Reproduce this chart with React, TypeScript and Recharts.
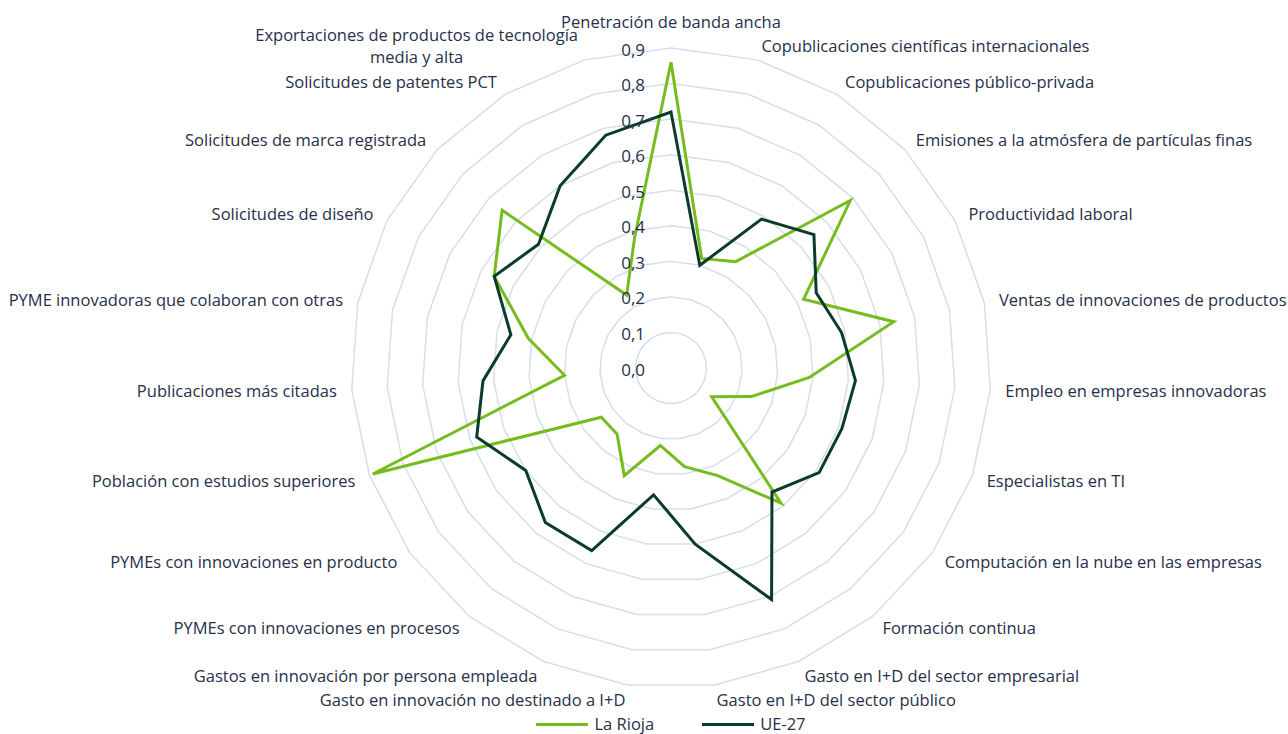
import { RadarChart, Radar, PolarGrid, PolarAngleAxis, PolarRadiusAxis } from 'recharts';

// categorías en el orden del gráfico (sentido horario desde arriba)
const categories = [
  'Penetración de banda ancha',
  'Copublicaciones científicas internacionales',
  'Copublicaciones público-privada',
  'Emisiones a la atmósfera de partículas finas',
  'Productividad laboral',
  'Ventas de innovaciones de productos',
  'Empleo en empresas innovadoras',
  'Especialistas en TI',
  'Computación en la nube en las empresas',
  'Formación continua',
  'Gasto en I+D del sector empresarial',
  'Gasto en I+D del sector público',
  'Gasto en innovación no destinado a I+D',
  'Gastos en innovación por persona empleada',
  'PYMEs con innovaciones en procesos',
  'PYMEs con innovaciones en producto',
  'Población con estudios superiores',
  'Publicaciones más citadas',
  'PYME innovadoras que colaboran con otras',
  'Solicitudes de diseño',
  'Solicitudes de marca registrada',
  'Solicitudes de patentes PCT',
  'Exportaciones de productos de tecnología media y alta',
];

const laRioja = [0.86, 0.32, 0.35, 0.69, 0.42, 0.64, 0.39, 0.24, 0.14, 0.49, 0.33, 0.28, 0.22, 0.33, 0.24, 0.24, 0.89, 0.3, 0.41, 0.56, 0.65, 0.24, 0.38];
const ue27 = [0.72, 0.3, 0.49, 0.55, 0.46, 0.49, 0.52, 0.51, 0.51, 0.45, 0.71, 0.5, 0.36, 0.56, 0.56, 0.5, 0.58, 0.53, 0.46, 0.56, 0.51, 0.6, 0.68];

const radiusTicks = [0, 0.1, 0.2, 0.3, 0.4, 0.5, 0.6, 0.7, 0.8, 0.9];

const data = categories.map((name, i) => ({ name, laRioja: laRioja[i], ue27: ue27[i] }));

const W = 1288;
const H = 734;
const CX = 671;
const CY = 368;
const RING_09 = 320; // radio del anillo 0,9
// recharts redondea el dominio a [0, 1], así que el radio exterior corresponde a 1
const OUTER = RING_09 / 0.9;
const LABEL_R = 335;

const GREEN = '#77bc1f';
const DARK = '#0b3b2b';
const TEXT = '#263049';
const FONT = '"Open Sans", sans-serif';
const FS = 16.5;

// divide etiquetas muy largas en dos líneas (como hace Excel)
const wrap = (s: string): string[] => {
  if (s.length <= 45) return [s];
  const cut = s.lastIndexOf(' ', 40);
  return [s.slice(0, cut), s.slice(cut + 1)];
};

const AngleTick = (props: any) => {
  const value: string = props.payload?.value ?? '';
  const i = categories.indexOf(value);
  const a = (i * 2 * Math.PI) / categories.length;
  const sin = Math.sin(a);
  const cos = Math.cos(a);
  const px = CX + LABEL_R * sin;
  let py = CY - LABEL_R * cos;
  const lines = wrap(value);

  if (lines.length > 1) {
    // texto centrado dentro de una caja pegada al punto
    const half = (lines[0].length * 8.2) / 2;
    const x = sin < 0 ? px - half : px + half;
    return (
      <text x={x} textAnchor="middle" fill={TEXT} fontSize={FS} fontFamily={FONT}>
        {lines.map((l, k) => (
          <tspan key={k} x={x} y={py + (k - (lines.length - 1) / 2) * 22} dominantBaseline="central">
            {l}
          </tspan>
        ))}
      </text>
    );
  }

  const anchor: 'start' | 'end' | 'middle' = sin > 1e-6 ? 'start' : sin < -1e-6 ? 'end' : 'middle';
  if (anchor === 'middle' && cos > 0) py -= 12;
  return (
    <text x={px} y={py} textAnchor={anchor} dominantBaseline="central" fill={TEXT} fontSize={FS} fontFamily={FONT}>
      {value}
    </text>
  );
};

const RadiusTick = (props: any) => {
  const v = Number(props.payload?.value ?? 0);
  return (
    <text x={props.x - 26} y={props.y + 1} textAnchor="end" dominantBaseline="central" fill={TEXT} fontSize={17} fontFamily={FONT}>
      {v.toFixed(1).replace('.', ',')}
    </text>
  );
};

const series = [
  { key: 'laRioja', name: 'La Rioja', color: GREEN },
  { key: 'ue27', name: 'UE-27', color: DARK },
];

export default function App() {
  return (
    <div style={{ position: 'absolute', left: 0, top: 0, width: W, height: H, background: '#fff', overflow: 'hidden' }}>
      <RadarChart width={W} height={H} data={data} cx={CX} cy={CY} outerRadius={OUTER} margin={{ top: 0, right: 0, bottom: 0, left: 0 }}>
        <PolarGrid gridType="polygon" radialLines={false} stroke="#d5dfe9" strokeWidth={1.5} />
        <PolarAngleAxis dataKey="name" tick={<AngleTick />} tickLine={false} axisLine={false} />
        <PolarRadiusAxis
          angle={90}
          type="number"
          domain={[0, 1]}
          ticks={radiusTicks as any}
          axisLine={false}
          tickLine={false}
          tick={<RadiusTick />}
        />
        {series.map((s) => (
          <Radar key={s.key} name={s.name} dataKey={s.key} stroke={s.color} strokeWidth={3} fill="none" fillOpacity={0} isAnimationActive={false} />
        ))}
      </RadarChart>
      {/* leyenda abajo, centrada bajo el gráfico */}
      <div
        style={{
          position: 'absolute',
          top: 714,
          left: 54,
          width: W - 54,
          display: 'flex',
          justifyContent: 'center',
          gap: 48,
          fontFamily: FONT,
          fontSize: FS,
          lineHeight: '20px',
          color: TEXT,
        }}
      >
        {series.map((s) => (
          <div key={s.key} style={{ display: 'flex', alignItems: 'center' }}>
            <span style={{ display: 'inline-block', width: 52, height: 3, background: s.color, marginRight: 6 }} />
            <span>{s.name}</span>
          </div>
        ))}
      </div>
    </div>
  );
}
